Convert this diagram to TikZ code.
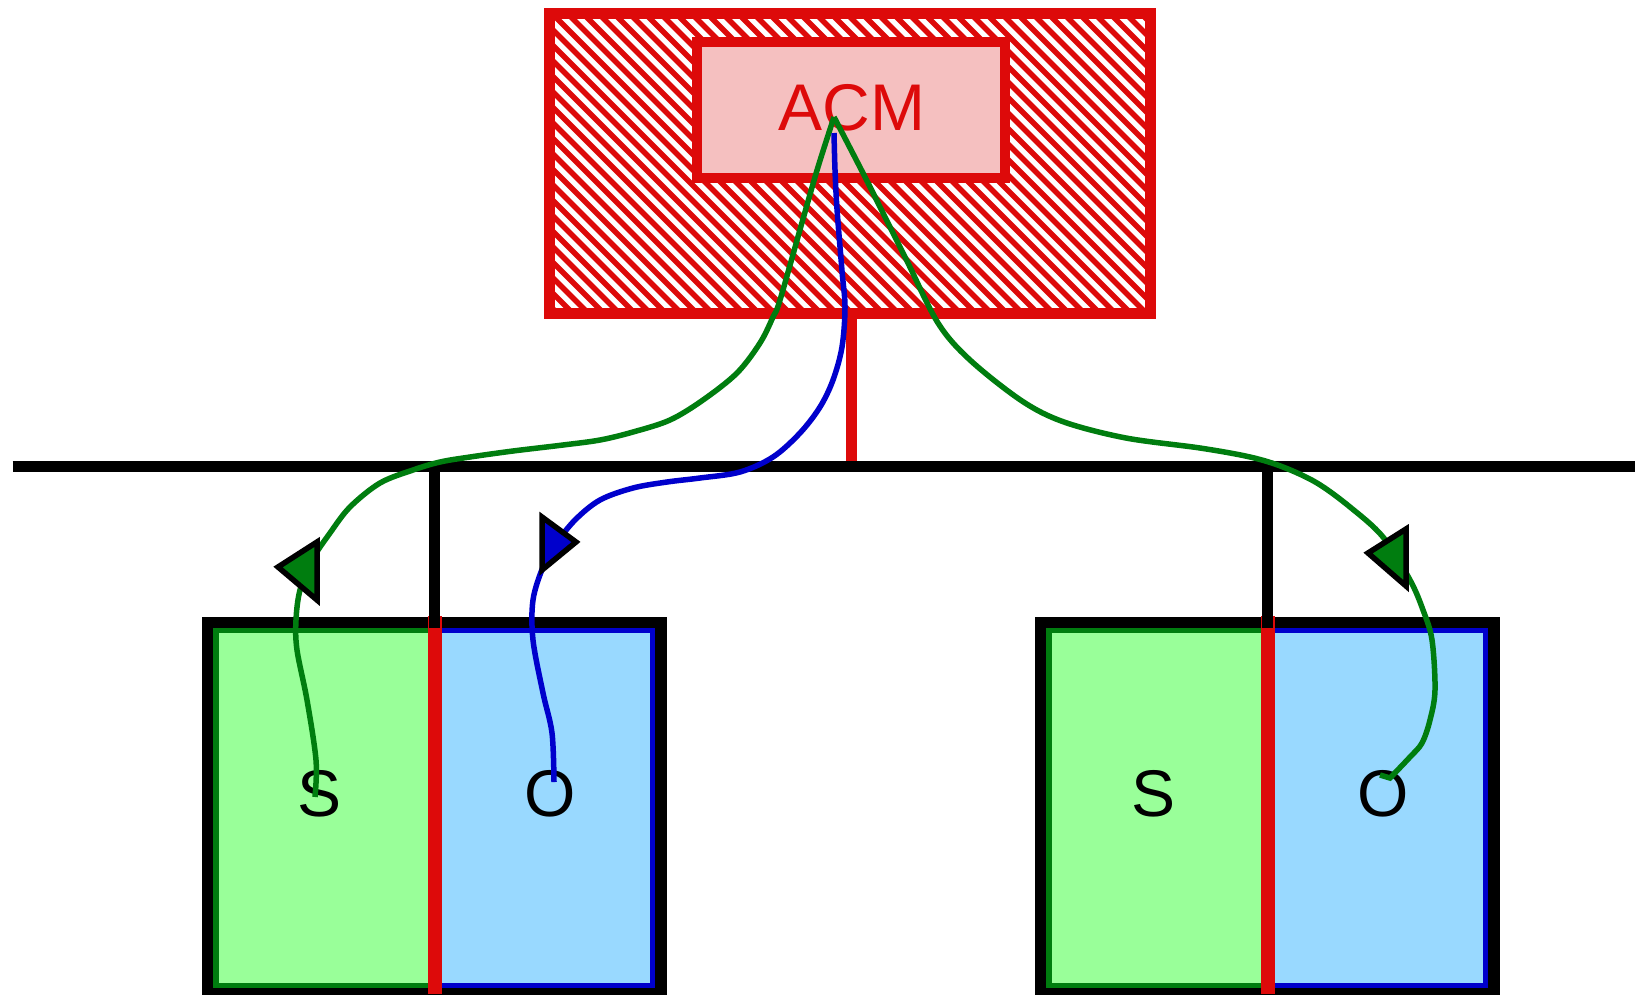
\documentclass[tikz,border=0pt]{standalone}
\usepackage{fontspec}
\setmainfont{Liberation Sans}
\definecolor{acmred}{RGB}{221,10,10}
\definecolor{acmpink}{RGB}{245,192,192}
\definecolor{sgreen}{RGB}{153,255,153}
\definecolor{oblue}{RGB}{153,217,255}
\definecolor{dgreen}{RGB}{0,125,15}
\definecolor{dblue}{RGB}{0,0,204}
\tikzset{
  lbl/.style={font=\fontsize{66}{70}\selectfont, inner sep=0pt},
  wire/.style={line width=11pt, black},
  gcurve/.style={line width=5.5pt, dgreen, line cap=butt},
  bcurve/.style={line width=5.5pt, dblue, line cap=butt},
  tri/.style={line width=5.5pt, black, line join=miter},
}
\begin{document}
\begin{tikzpicture}[x=1pt,y=-1pt]
\useasboundingbox[fill=white] (0,0) rectangle (1635,994);
% ACM outer hatched box
\fill[white] (549,13) rectangle (1150,313);
\begin{scope}
  \clip (549,13) rectangle (1150,313);
  \foreach \i in {0,...,80} {
    \draw[acmred, line width=5.5pt] ({120+\i*15.5},0) -- ++(420,420);
  }
\end{scope}
\draw[acmred, line width=11pt] (549,13) rectangle (1150,313);
% inner ACM box
\draw[acmred, fill=acmpink, line width=10.5pt] (697,42) rectangle (1005,178);
\node[lbl, text=acmred] (acm) at (852,108) {ACM};
% red stem and bus
\coordinate (acmbot) at (851,313);
\coordinate (busC) at (851,463);
\draw[acmred, line width=11pt] (acmbot) -- (busC);
\coordinate (busL) at (12.5,466);
\coordinate (busR) at (1635,466);
\draw[wire] (busL) -- (busR);
% lower boxes
\foreach \dx/\nm in {0/1, 833/2} {
  \begin{scope}[xshift=\dx]
    \draw[black, line width=12pt] (208,623) rectangle (661,993);
    \draw[dgreen, fill=sgreen, line width=5.5pt] (216,630.5) rectangle (434.5,985.5);
    \draw[dblue, fill=oblue, line width=5.5pt] (434.5,630.5) rectangle (652.5,985.5);
    \draw[acmred, line width=14pt] (434.5,616) -- (434.5,994);
    \coordinate (stemtop\nm) at (434.5,466);
    \coordinate (stembot\nm) at (434.5,628);
    \draw[wire] (stemtop\nm) -- (stembot\nm);
    \node[lbl] (S\nm) at (320,794) {S};
    \node[lbl] (O\nm) at (550.5,794) {O};
  \end{scope}
}
% curve endpoints
\coordinate (acmG) at (834,117);
\coordinate (acmB) at (834,133);
\coordinate (s1) at (315,797);
\coordinate (o1) at (554,782);
\coordinate (o2) at (1380,775);
% green left curve
\draw[gcurve] plot[smooth, tension=0.55] coordinates {(acmG) (818,167) (803,219) (780,300) (773,317) (760,343) (737,373) (703,400) (670,420) (633,432) (600,440) (563,445) (513,451) (470,457) (440,462) (413,470) (380,483) (350,507) (330,533) (312,560) (300,590) (296,620) (297,650) (307,700) (316,760) (s1)};
% green right curve
\draw[gcurve] plot[smooth, tension=0.55] coordinates {(acmG) (865,177) (886,219) (907,261) (938,323) (970,360) (1022,401) (1064,422) (1126,438) (1200,448) (1250,457) (1283,467) (1317,483) (1350,507) (1383,537) (1410,580) (1423,610) (1432,640) (1435,690) (1430,720) (1422,743) (1410,757) (1390,778)} -- (o2);
% blue curve
\draw[bcurve] plot[smooth, tension=0.55] coordinates {(acmB) (835,170) (837,209) (842,271) (845,307) (842,347) (833,380) (820,407) (800,433) (773,457) (740,472) (700,478) (667,482) (633,488) (600,500) (575,520) (555,545) (543,567) (533,600) (533,640) (543,693) (552,733) (o1)};
% arrowheads
\draw[tri, fill=dgreen] (278,567) -- (317,542) -- (317,600) -- cycle;
\draw[tri, fill=dblue] (576,542) -- (542,517) -- (542,570) -- cycle;
\draw[tri, fill=dgreen] (1368,553) -- (1406,529) -- (1406,586) -- cycle;
\end{tikzpicture}
\end{document}
